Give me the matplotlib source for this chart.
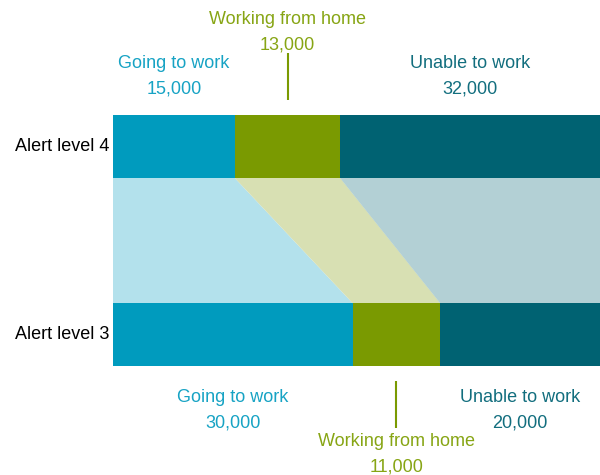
import matplotlib.pyplot as plt
from matplotlib.patches import Polygon

plt.rcParams["font.family"] = ["Liberation Sans", "DejaVu Sans"]

LEVELS = ["Alert level 4", "Alert level 3"]
CATEGORIES = ["Going to work", "Working from home", "Unable to work"]
LEVEL4 = [15000, 13000, 32000]
LEVEL3 = [30000, 11000, 20000]

COLORS = ["#009bbe", "#7a9a01", "#006272"]
LIGHT = ["#b3e1ec", "#d8e0b3", "#b3d0d5"]
TEXT_COLORS = ["#17a3c4", "#87a514", "#126e7e"]

BAR_H = 0.335
PX = 188.0  # pixels per y unit


def shares(vals):
    tot = float(sum(vals))
    left, out = 0.0, []
    for v in vals:
        out.append((left / tot, (left + v) / tot))
        left += v
    return out


fig = plt.figure(figsize=(6, 4.75), dpi=100)
ax = fig.add_axes([113 / 600, 0, 487 / 600, 1])
ax.set_xlim(0, 1)
ax.set_ylim(-0.747, 1.779)
ax.axis("off")

top = shares(LEVEL4)
bot = shares(LEVEL3)
y_top, y_bot = 1.0, 0.0

# connecting bands
for i in range(len(CATEGORIES)):
    (a0, a1), (b0, b1) = top[i], bot[i]
    ax.add_patch(Polygon([(a0, y_top - BAR_H / 2), (a1, y_top - BAR_H / 2),
                          (b1, y_bot + BAR_H / 2), (b0, y_bot + BAR_H / 2)],
                         closed=True, facecolor=LIGHT[i], edgecolor="none"))

# bars
for seg, y in [(top, y_top), (bot, y_bot)]:
    for i, (l, r) in enumerate(seg):
        ax.barh(y, r - l, left=l, height=BAR_H, color=COLORS[i], lw=0)

# row labels
for name, y in zip(LEVELS, [y_top, y_bot]):
    ax.annotate(name, (0, y), xytext=(-98, 0), textcoords="offset pixels",
                ha="left", va="center", fontsize=13, color="black")

# segment labels (working from home sits further out, with a leader line)
for vals, seg, y, sign in [(LEVEL4, top, y_top, 1), (LEVEL3, bot, y_bot, -1)]:
    edge = y + sign * BAR_H / 2
    for i, (l, r) in enumerate(seg):
        xc = (l + r) / 2
        off = 44 if i == 1 else 0
        if sign > 0:
            d_name, d_val = 51 + off, 26 + off
        else:
            d_name, d_val = 31 + off, 57 + off
        ax.annotate(CATEGORIES[i], (xc, edge), xytext=(0, sign * d_name),
                    textcoords="offset pixels", ha="center", va="center",
                    fontsize=13, color=TEXT_COLORS[i])
        ax.annotate(f"{vals[i]:,}", (xc, edge), xytext=(0, sign * d_val),
                    textcoords="offset pixels", ha="center", va="center",
                    fontsize=13, color=TEXT_COLORS[i])
        if i == 1:
            ax.plot([xc, xc], [edge + sign * 15 / PX, edge + sign * 62 / PX],
                    color=COLORS[1], lw=1.5, solid_capstyle="butt",
                    clip_on=False)

fig.savefig("out.png", dpi=100)
